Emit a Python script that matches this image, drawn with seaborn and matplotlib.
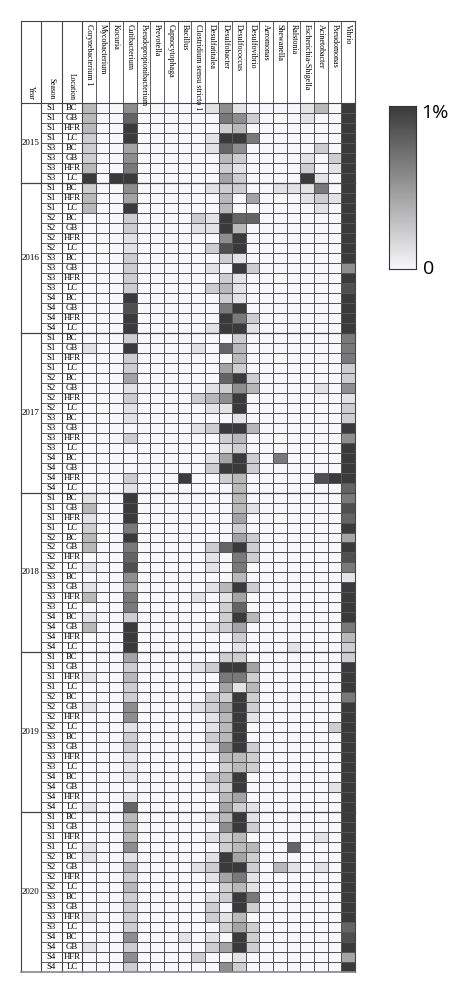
import numpy as np
import pandas as pd
import matplotlib
matplotlib.use("Agg")
import matplotlib.pyplot as plt
from matplotlib.colors import LinearSegmentedColormap
import seaborn as sns

genera = ["Corynebacterium 1", "Mycobacterium", "Kocuria", "Cutibacterium",
          "Pseudopropionibacterium", "Prevotella", "Capnocytophaga", "Bacillus",
          "Clostridium sensu stricto 1", "Desulfatitalea", "Desulfobacter",
          "Desulfococcus", "Desulfovibrio", "Aeromonas", "Shewanella", "Ralstonia",
          "Escherichia-Shigella", "Acinetobacter", "Pseudomonas", "Vibrio"]
years = ["2015", "2016", "2017", "2018", "2019", "2020"]

S = ["S1", "S1", "S1", "S1", "S2", "S2", "S2", "S2", "S3", "S3", "S3", "S3", "S4", "S4", "S4", "S4"]
L = ["BC", "GB", "HFR", "LC"] * 4
seasons = {"2015": ["S1"] * 4 + ["S3"] * 4,
           "2016": ["S1"] * 3 + S[4:],
           "2017": S, "2018": S, "2019": S, "2020": S}
locations = {"2015": L[:8], "2016": ["BC", "HFR", "LC"] + L[4:],
             "2017": L, "2018": L, "2019": L, "2020": L}

# relative abundance level (0-9, 9 = 1% or more), sparse per row {column: level}
y2015 = [{0: 3, 3: 5, 9: 1, 10: 5, 11: 1, 16: 1, 17: 3, 19: 9},
         {0: 3, 3: 7, 10: 6, 11: 5, 12: 2, 16: 1, 19: 9},
         {0: 3, 3: 9, 10: 2, 11: 3, 19: 9},
         {0: 2, 3: 9, 9: 1, 10: 9, 11: 9, 12: 6, 19: 9},
         {0: 2, 3: 4, 9: 1, 10: 7, 11: 5, 17: 2, 19: 9},
         {0: 2, 3: 5, 10: 3, 11: 2, 16: 1, 18: 2, 19: 9},
         {0: 3, 3: 6, 10: 2, 11: 1, 16: 2, 18: 1, 19: 9},
         {0: 9, 2: 9, 3: 9, 10: 4, 11: 2, 16: 9, 17: 1, 19: 9}]
y2016 = [{0: 2, 3: 5, 9: 1, 10: 2, 11: 2, 14: 1, 15: 1, 16: 1, 17: 6, 19: 9},
         {0: 3, 3: 4, 10: 3, 12: 4, 16: 1, 17: 2, 18: 1, 19: 9},
         {0: 3, 3: 9, 10: 3, 17: 1, 19: 9},
         {3: 2, 8: 2, 9: 1, 10: 9, 11: 7, 12: 7, 19: 9},
         {3: 2, 8: 1, 9: 1, 10: 9, 11: 3, 19: 9},
         {3: 1, 10: 5, 11: 9, 19: 9},
         {3: 1, 9: 2, 10: 8, 11: 9, 19: 9},
         {3: 2, 10: 2, 11: 1, 19: 9},
         {3: 2, 9: 1, 11: 9, 12: 2, 19: 5},
         {3: 2, 10: 2, 11: 1, 19: 9},
         {3: 2, 9: 2, 10: 3, 11: 1, 19: 8},
         {3: 9, 10: 2, 11: 1, 19: 9},
         {3: 8, 10: 6, 11: 9, 19: 9},
         {3: 9, 10: 9, 11: 6, 12: 2, 19: 9},
         {3: 9, 9: 1, 10: 9, 11: 9, 12: 1, 19: 9}]
y2017 = [{3: 2, 11: 2, 19: 6},
         {0: 1, 3: 9, 8: 1, 10: 7, 11: 3, 19: 6},
         {3: 2, 11: 3, 19: 6},
         {3: 2, 10: 4, 11: 2, 19: 2},
         {3: 4, 10: 7, 11: 9, 12: 2, 19: 2},
         {3: 1, 9: 1, 10: 2, 11: 5, 12: 3, 17: 1, 19: 5},
         {3: 2, 8: 2, 9: 3, 10: 5, 11: 9, 19: 1},
         {3: 1, 9: 1, 10: 1, 11: 9, 19: 2},
         {3: 1, 11: 1, 19: 2},
         {8: 1, 9: 2, 10: 9, 11: 9, 12: 3, 19: 9},
         {3: 2, 10: 2, 11: 3, 19: 5},
         {10: 1, 11: 2, 19: 9},
         {9: 1, 10: 4, 11: 9, 12: 2, 14: 6, 19: 9},
         {9: 2, 10: 9, 11: 9, 12: 2, 19: 9},
         {3: 2, 7: 9, 10: 2, 11: 3, 17: 8, 18: 9, 19: 9},
         {3: 1, 11: 3, 19: 7}]
y2018 = [{0: 1, 3: 9, 11: 3, 19: 6},
         {0: 3, 3: 9, 11: 3, 12: 1, 19: 8},
         {0: 1, 3: 9, 11: 4, 19: 7},
         {0: 2, 3: 6, 11: 2, 19: 9},
         {0: 3, 3: 9, 11: 4, 12: 2, 19: 4},
         {0: 3, 3: 6, 9: 2, 10: 7, 11: 9, 12: 2, 19: 9},
         {3: 7, 9: 1, 11: 6, 12: 2, 19: 8},
         {0: 1, 3: 8, 9: 1, 11: 6, 19: 6},
         {3: 5, 11: 3, 19: 1},
         {0: 1, 3: 4, 9: 1, 10: 3, 11: 9, 12: 2, 19: 9},
         {0: 3, 3: 6, 8: 1, 10: 1, 11: 4, 19: 9},
         {3: 6, 10: 2, 11: 7, 19: 9},
         {0: 1, 3: 2, 10: 2, 11: 9, 12: 3, 19: 9},
         {0: 3, 3: 9, 9: 1, 10: 2, 11: 4, 19: 6},
         {3: 9, 11: 2, 19: 3},
         {3: 9, 11: 1, 15: 1, 19: 2}]
y2019 = [{3: 4, 10: 2, 11: 2, 19: 2},
         {3: 2, 8: 1, 9: 2, 10: 9, 11: 9, 12: 4, 19: 9},
         {0: 1, 3: 3, 10: 6, 11: 6, 12: 2, 19: 9},
         {3: 2, 10: 4, 11: 1, 12: 3, 19: 9},
         {3: 2, 9: 2, 10: 2, 11: 9, 12: 2, 19: 6},
         {0: 1, 3: 5, 8: 1, 9: 2, 10: 4, 11: 9, 12: 2, 19: 9},
         {3: 5, 9: 1, 10: 3, 11: 9, 12: 1, 19: 9},
         {3: 1, 9: 1, 10: 3, 11: 9, 18: 2, 19: 9},
         {3: 2, 9: 2, 10: 3, 11: 9, 19: 9},
         {3: 2, 9: 1, 10: 5, 11: 9, 12: 2, 19: 9},
         {3: 1, 10: 3, 11: 3, 12: 2, 19: 9},
         {3: 1, 10: 2, 11: 3, 12: 2, 19: 9},
         {3: 1, 9: 2, 10: 3, 11: 9, 19: 9},
         {9: 1, 10: 2, 11: 9, 18: 1, 19: 9},
         {3: 1, 10: 3, 11: 4, 19: 9},
         {0: 1, 3: 7, 10: 4, 11: 2, 12: 1, 19: 9}]
y2020 = [{3: 3, 9: 1, 10: 3, 11: 9, 12: 1, 19: 9},
         {3: 3, 10: 5, 11: 9, 12: 2, 19: 9},
         {3: 3, 9: 1, 10: 2, 11: 3, 17: 1, 19: 9},
         {0: 1, 3: 5, 10: 2, 11: 3, 12: 3, 15: 7, 19: 9},
         {0: 1, 3: 1, 9: 1, 10: 9, 11: 4, 12: 2, 19: 9},
         {3: 3, 8: 1, 9: 2, 10: 9, 11: 9, 12: 2, 14: 3, 15: 1, 17: 1, 19: 9},
         {3: 2, 9: 1, 10: 4, 11: 6, 12: 1, 19: 9},
         {3: 3, 10: 2, 11: 3, 12: 1, 19: 9},
         {3: 2, 9: 1, 10: 2, 11: 9, 12: 6, 19: 9},
         {3: 2, 9: 2, 11: 9, 12: 2, 19: 9},
         {0: 1, 3: 2, 9: 2, 10: 1, 11: 3, 19: 9},
         {3: 2, 10: 2, 11: 4, 12: 2, 19: 7},
         {3: 5, 7: 1, 9: 1, 11: 9, 12: 2, 19: 8},
         {0: 1, 3: 2, 9: 2, 10: 4, 11: 9, 12: 2, 19: 9},
         {3: 5, 8: 2, 11: 1, 19: 4},
         {3: 2, 10: 5, 11: 2, 19: 9}]
levels = {"2015": y2015, "2016": y2016, "2017": y2017,
          "2018": y2018, "2019": y2019, "2020": y2020}

rows, idx = [], []
for y in years:
    for s, l, d in zip(seasons[y], locations[y], levels[y]):
        r = np.zeros(len(genera))
        for k, v in d.items():
            r[k] = v / 9.0
        rows.append(r)
        idx.append((y, s, l))
df = pd.DataFrame(rows, columns=genera)
n = len(df)

W, H = 474, 994
fig = plt.figure(figsize=(W / 100, H / 100), dpi=100)
X0, XY, XS, XL, XR = 21, 41, 62, 82, 355
YT, YH, YB = 21, 103, 972
def fx(px): return px / W
def fy(py): return 1 - py / H

cmap = LinearSegmentedColormap.from_list("g", ["#f8f8fa", "#3a3a3a"])
ax = fig.add_axes([fx(XL), fy(YB), fx(XR) - fx(XL), fy(YH) - fy(YB)])
sns.heatmap(df, ax=ax, cmap=cmap, vmin=0, vmax=1, cbar=False,
            linewidths=0.6, linecolor="#555555", xticklabels=False, yticklabels=False)
ax.set_xlabel(""); ax.set_ylabel("")

ov = fig.add_axes([0, 0, 1, 1], facecolor="none")
ov.set_xlim(0, W); ov.set_ylim(H, 0); ov.axis("off")
font = "Liberation Serif"
lc = "#444444"
rh = (YB - YH) / n
cw = (XR - XL) / len(genera)
for x in [X0, XY, XS, XL, XR]:
    ov.plot([x, x], [YT, YB], color=lc, lw=0.8)
ov.plot([X0, XR], [YT, YT], color=lc, lw=0.8)
ov.plot([X0, XR], [YH, YH], color=lc, lw=0.8)
ov.plot([X0, XR], [YB, YB], color="#888888", lw=1.2)
for i in range(1, len(genera)):
    ov.plot([XL + i * cw] * 2, [YT, YH], color=lc, lw=0.6)
for i in range(1, n):
    ov.plot([XY, XL], [YH + i * rh] * 2, color=lc, lw=0.6)
for i, g in enumerate(genera):
    ov.text(XL + (i + 0.5) * cw, YT + 3, g, rotation=-90, ha="center", va="top",
            fontsize=5.8, family=font)
for x0, x1, t in [(X0, XY, "Year"), (XY, XS, "Season"), (XS, XL, "Location")]:
    ov.text((x0 + x1) / 2, YH - 3, t, rotation=-90, ha="center", va="bottom",
            fontsize=5.5, family=font)
for i, (y, s, l) in enumerate(idx):
    yc = YH + (i + 0.5) * rh
    ov.text((XY + XS) / 2, yc, s, ha="center", va="center", fontsize=6.3, family=font)
    ov.text((XS + XL) / 2, yc, l, ha="center", va="center", fontsize=6.3, family=font)
start = 0
for y in years:
    cnt = len(levels[y])
    yc = YH + (start + cnt / 2) * rh
    ov.text((X0 + XY) / 2, yc, y, ha="center", va="center", fontsize=6.5, family=font)
    start += cnt
    if start < n:
        ov.plot([X0, XR], [YH + start * rh] * 2, color=lc, lw=0.9)

cax = fig.add_axes([fx(389), fy(269), fx(416) - fx(389), fy(106) - fy(269)])
grad = np.linspace(1, 0, 256).reshape(-1, 1)
cax.imshow(grad, aspect="auto", cmap=cmap, vmin=0, vmax=1)
cax.set_xticks([]); cax.set_yticks([])
for sp in cax.spines.values():
    sp.set_color("#333333"); sp.set_linewidth(0.8)
ov.text(421, 113, "1%", ha="left", va="center", fontsize=14, family="Open Sans")
ov.text(423, 269, "0", ha="left", va="center", fontsize=14, family="Open Sans")

fig.savefig("out.png", dpi=100, facecolor="white")
